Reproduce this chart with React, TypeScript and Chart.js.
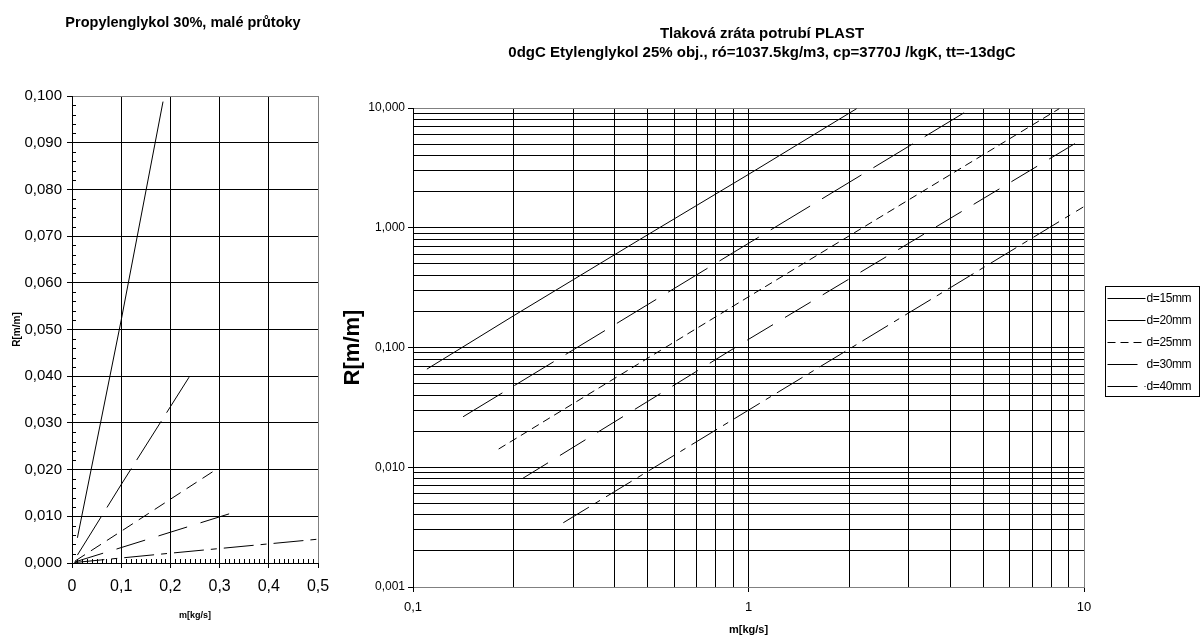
import React, { useEffect, useRef } from "react";
import { Chart, registerables } from "chart.js";

Chart.register(...registerables);

const FONT = "'Liberation Sans', Arial, Helvetica, sans-serif";

// ---------- Data ----------
const seriesNames = ["d=15mm", "d=20mm", "d=25mm", "d=30mm", "d=40mm"];

// Left chart: Propylenglykol 30%, small flows (linear axes)
const smallM15 = [0.011, 0.1, 0.185];
const smallR15 = [0.0054, 0.052, 0.0988];
const smallM20 = [0.011, 0.1, 0.238];
const smallR20 = [0.0017, 0.0168, 0.0398];
const smallM25 = [0.006, 0.1, 0.297];
const smallR25 = [0.0004, 0.0068, 0.0203];
const smallM30 = [0.005, 0.1, 0.346];
const smallR30 = [0.0002, 0.0033, 0.0114];
const smallM40 = [0.005, 0.2, 0.5];
const smallR40 = [0.0001, 0.0021, 0.0051];

// Right chart: pressure loss PLAST pipe (log-log)
const flowM15 = [0.11, 0.2, 0.475, 1, 2.1];
const flowR15 = [0.066, 0.185, 0.8, 2.79, 9.87];
const flowM20 = [0.141, 1, 4.6];
const flowR20 = [0.0264, 0.741, 9.87];
const flowM25 = [0.18, 1, 8.44];
const flowR25 = [0.0142, 0.265, 9.87];
const flowM30 = [0.212, 1, 9.46];
const flowR30 = [0.00805, 0.117, 5.1];
const flowM40 = [0.2805, 1, 9.95];
const flowR40 = [0.00344, 0.0300, 1.49];

const leftTitle = "Propylenglykol 30%, malé průtoky";
const rightTitle = ["Tlaková zráta potrubí PLAST", "0dgC Etylenglykol 25% obj., ró=1037.5kg/m3, cp=3770J /kgK, tt=-13dgC"];
const leftXTitle = "m[kg/s]";
const leftYTitle = "R[m/m]";
const rightXTitle = "m[kg/s]";
const rightYTitle = "R[m/m]";

const leftXRange = [0, 0.5];
const leftYRange = [0, 0.1];
const rightXRange = [0.1, 10];
const rightYRange = [0.001, 10];

const dashRight = [[], [46, 14], [8, 5], [30, 14], [30, 7, 6, 7]];
const dashLeft = [[], [46, 10], [12, 7], [30, 14], [30, 7, 6, 7]];

// ---------- Helpers ----------
const zip = (xs: number[], ys: number[]) => xs.map((x, i) => ({ x, y: ys[i] }));
const comma = (v: number, d: number) => v.toFixed(d).replace(".", ",");
const isPow10 = (v: number) => Math.abs(Math.log10(v) - Math.round(Math.log10(v))) < 1e-9;

function logTicks(min: number, max: number) {
  const out: { value: number }[] = [];
  const e0 = Math.round(Math.log10(min));
  const e1 = Math.round(Math.log10(max));
  for (let e = e0; e < e1; e++) {
    for (let s = 1; s < 10; s++) out.push({ value: parseFloat((s * Math.pow(10, e)).toPrecision(3)) });
  }
  out.push({ value: max });
  return out;
}

function makeDatasets(xsList: number[][], ysList: number[][], dashes: number[][]) {
  return seriesNames.map((name, i) => ({
    label: name,
    data: zip(xsList[i], ysList[i]),
    borderColor: "#000",
    backgroundColor: "#000",
    borderWidth: 1,
    borderDash: dashes[i],
    pointRadius: 0,
    showLine: true,
    fill: false,
    tension: 0,
  }));
}

function textPlugin(id: string, lines: string[], x: number, ys: number[], size: number, spacing: string) {
  return {
    id,
    afterDraw(chart: any) {
      const ctx = chart.ctx;
      ctx.save();
      ctx.font = `bold ${size}px ${FONT}`;
      ctx.fillStyle = "#000";
      ctx.textAlign = "center";
      ctx.textBaseline = "alphabetic";
      (ctx as any).letterSpacing = spacing;
      lines.forEach((t, i) => ctx.fillText(t, x, ys[i]));
      ctx.restore();
    },
  };
}

const leftMinorTicks = {
  id: "leftMinorTicks",
  afterDraw(chart: any) {
    const ctx = chart.ctx;
    const xs = chart.scales.x;
    const ys = chart.scales.y;
    const { left, bottom } = chart.chartArea;
    ctx.save();
    ctx.strokeStyle = "#000";
    ctx.lineWidth = 1;
    ctx.beginPath();
    for (let k = 1; k < 50; k++) {
      const v = k * 0.002;
      if (k % 5 === 0) continue;
      const py = Math.round(ys.getPixelForValue(v)) + 0.5;
      ctx.moveTo(left, py);
      ctx.lineTo(left + 4, py);
    }
    for (let k = 1; k < 50; k++) {
      if (k % 10 === 0) continue;
      const px = Math.round(xs.getPixelForValue(k * 0.01)) + 0.5;
      ctx.moveTo(px, bottom);
      ctx.lineTo(px, bottom - 4);
    }
    ctx.stroke();
    ctx.restore();
  },
};

const legendPlugin = {
  id: "boxLegend",
  afterDraw(chart: any) {
    const ctx = chart.ctx;
    const bx = 765.5, by = 286.5, bw = 94, bh = 110;
    ctx.save();
    ctx.strokeStyle = "#000";
    ctx.lineWidth = 1;
    ctx.strokeRect(bx, by, bw, bh);
    ctx.font = `12px ${FONT}`;
    ctx.fillStyle = "#000";
    ctx.textAlign = "left";
    ctx.textBaseline = "middle";
    (ctx as any).letterSpacing = "-0.4px";
    chart.data.datasets.forEach((ds: any, i: number) => {
      const y = 298.5 + 22 * i;
      ctx.save();
      ctx.setLineDash(ds.borderDash || []);
      ctx.beginPath();
      ctx.moveTo(bx + 2, y);
      ctx.lineTo(bx + 40, y);
      ctx.stroke();
      ctx.restore();
      ctx.fillText(ds.label, bx + 41, y);
    });
    ctx.restore();
  },
};

function leftConfig(): any {
  return {
    type: "scatter",
    data: {
      datasets: makeDatasets(
        [smallM15, smallM20, smallM25, smallM30, smallM40],
        [smallR15, smallR20, smallR25, smallR30, smallR40],
        dashLeft
      ),
    },
    options: {
      animation: false,
      responsive: true,
      maintainAspectRatio: false,
      layout: { padding: { left: 0, top: 96, right: 22, bottom: 0 } },
      plugins: { legend: { display: false }, tooltip: { enabled: false }, title: { display: false } },
      scales: {
        x: {
          type: "linear",
          min: leftXRange[0],
          max: leftXRange[1],
          afterFit: (s: any) => { s.height = 77; },
          ticks: {
            stepSize: 0.1,
            font: { size: 16, family: FONT },
            color: "#000",
            padding: 9,
            maxRotation: 0,
            callback: (v: number) => (v === 0 ? "0" : comma(v, 1)),
          },
          grid: {
            color: (c: any) => (c.tick && Math.abs(c.tick.value - 0.5) < 1e-9 ? "#808080" : "#000"),
            tickLength: 5,
            tickColor: "#000",
          },
          border: { display: true, color: "#000" },
          title: { display: true, text: leftXTitle, font: { size: 9, weight: "bold", family: FONT }, color: "#000", padding: { top: 0, bottom: 19 } },
        },
        y: {
          type: "linear",
          min: leftYRange[0],
          max: leftYRange[1],
          afterFit: (s: any) => { s.width = 72; },
          ticks: {
            stepSize: 0.01,
            font: { size: 15, family: FONT },
            color: "#000",
            padding: 5,
            callback: (v: number) => comma(v, 3),
          },
          grid: {
            color: (c: any) => (c.tick && Math.abs(c.tick.value - 0.1) < 1e-9 ? "#808080" : "#000"),
            tickLength: 5,
            tickColor: "#000",
          },
          border: { display: true, color: "#000" },
          title: { display: true, text: leftYTitle, font: { size: 10, weight: "bold", family: FONT }, color: "#000", padding: { top: 11, bottom: 0 } },
        },
      },
    },
    plugins: [leftMinorTicks, textPlugin("leftTitle", [leftTitle], 183, [27], 14.5, "0px")],
  };
}

function rightConfig(): any {
  return {
    type: "scatter",
    data: {
      datasets: makeDatasets(
        [flowM15, flowM20, flowM25, flowM30, flowM40],
        [flowR15, flowR20, flowR25, flowR30, flowR40],
        dashRight
      ),
    },
    options: {
      animation: false,
      responsive: true,
      maintainAspectRatio: false,
      layout: { padding: { left: 0, top: 108, right: 116, bottom: 0 } },
      plugins: { legend: { display: false }, tooltip: { enabled: false }, title: { display: false } },
      scales: {
        x: {
          type: "logarithmic",
          min: rightXRange[0],
          max: rightXRange[1],
          afterFit: (s: any) => { s.height = 53; },
          afterBuildTicks: (s: any) => { s.ticks = logTicks(rightXRange[0], rightXRange[1]); },
          ticks: {
            autoSkip: false,
            maxRotation: 0,
            font: { size: 13, family: FONT },
            color: "#000",
            padding: 8,
            callback: (v: number) => (isPow10(v) ? (v < 1 ? comma(v, 1) : String(Math.round(v))) : ""),
          },
          grid: {
            color: (c: any) => (c.tick && Math.abs(c.tick.value - 10) < 1e-9 ? "#808080" : "#000"),
            tickLength: 5,
            tickColor: (c: any) => (c.tick && isPow10(c.tick.value) ? "#000" : "rgba(0,0,0,0)"),
          },
          border: { display: true, color: "#808080" },
          title: { display: true, text: rightXTitle, font: { size: 11, weight: "bold", family: FONT }, color: "#000", padding: { top: 0, bottom: 3 } },
        },
        y: {
          type: "logarithmic",
          min: rightYRange[0],
          max: rightYRange[1],
          afterFit: (s: any) => { s.width = 73; },
          afterBuildTicks: (s: any) => { s.ticks = logTicks(rightYRange[0], rightYRange[1]); },
          ticks: {
            autoSkip: false,
            font: { size: 12, family: FONT },
            color: "#000",
            padding: 3,
            callback: (v: number) => (isPow10(v) ? comma(v, 3) : ""),
          },
          grid: {
            color: (c: any) => (c.tick && Math.abs(c.tick.value - 10) < 1e-9 ? "#808080" : "#000"),
            tickLength: 5,
            tickColor: (c: any) => (c.tick && isPow10(c.tick.value) ? "#000" : "rgba(0,0,0,0)"),
          },
          border: { display: true, color: "#000" },
          title: { display: true, text: rightYTitle, font: { size: 22, weight: "bold", family: FONT }, color: "#000", padding: { top: 0, bottom: 0 } },
        },
      },
    },
    plugins: [legendPlugin, textPlugin("rightTitle", rightTitle, 422, [38, 57], 15, "0px")],
  };
}

export default function App() {
  const leftRef = useRef<HTMLCanvasElement>(null);
  const rightRef = useRef<HTMLCanvasElement>(null);
  useEffect(() => {
    const left = new Chart(leftRef.current as HTMLCanvasElement, leftConfig());
    const right = new Chart(rightRef.current as HTMLCanvasElement, rightConfig());
    return () => {
      left.destroy();
      right.destroy();
    };
  }, []);
  return (
    <div style={{ position: "absolute", left: 0, top: 0, width: 1200, height: 640, background: "#fff" }}>
      <div style={{ position: "absolute", left: 0, top: 0, width: 340, height: 640 }}>
        <canvas ref={leftRef} />
      </div>
      <div style={{ position: "absolute", left: 340, top: 0, width: 860, height: 640 }}>
        <canvas ref={rightRef} />
      </div>
    </div>
  );
}
